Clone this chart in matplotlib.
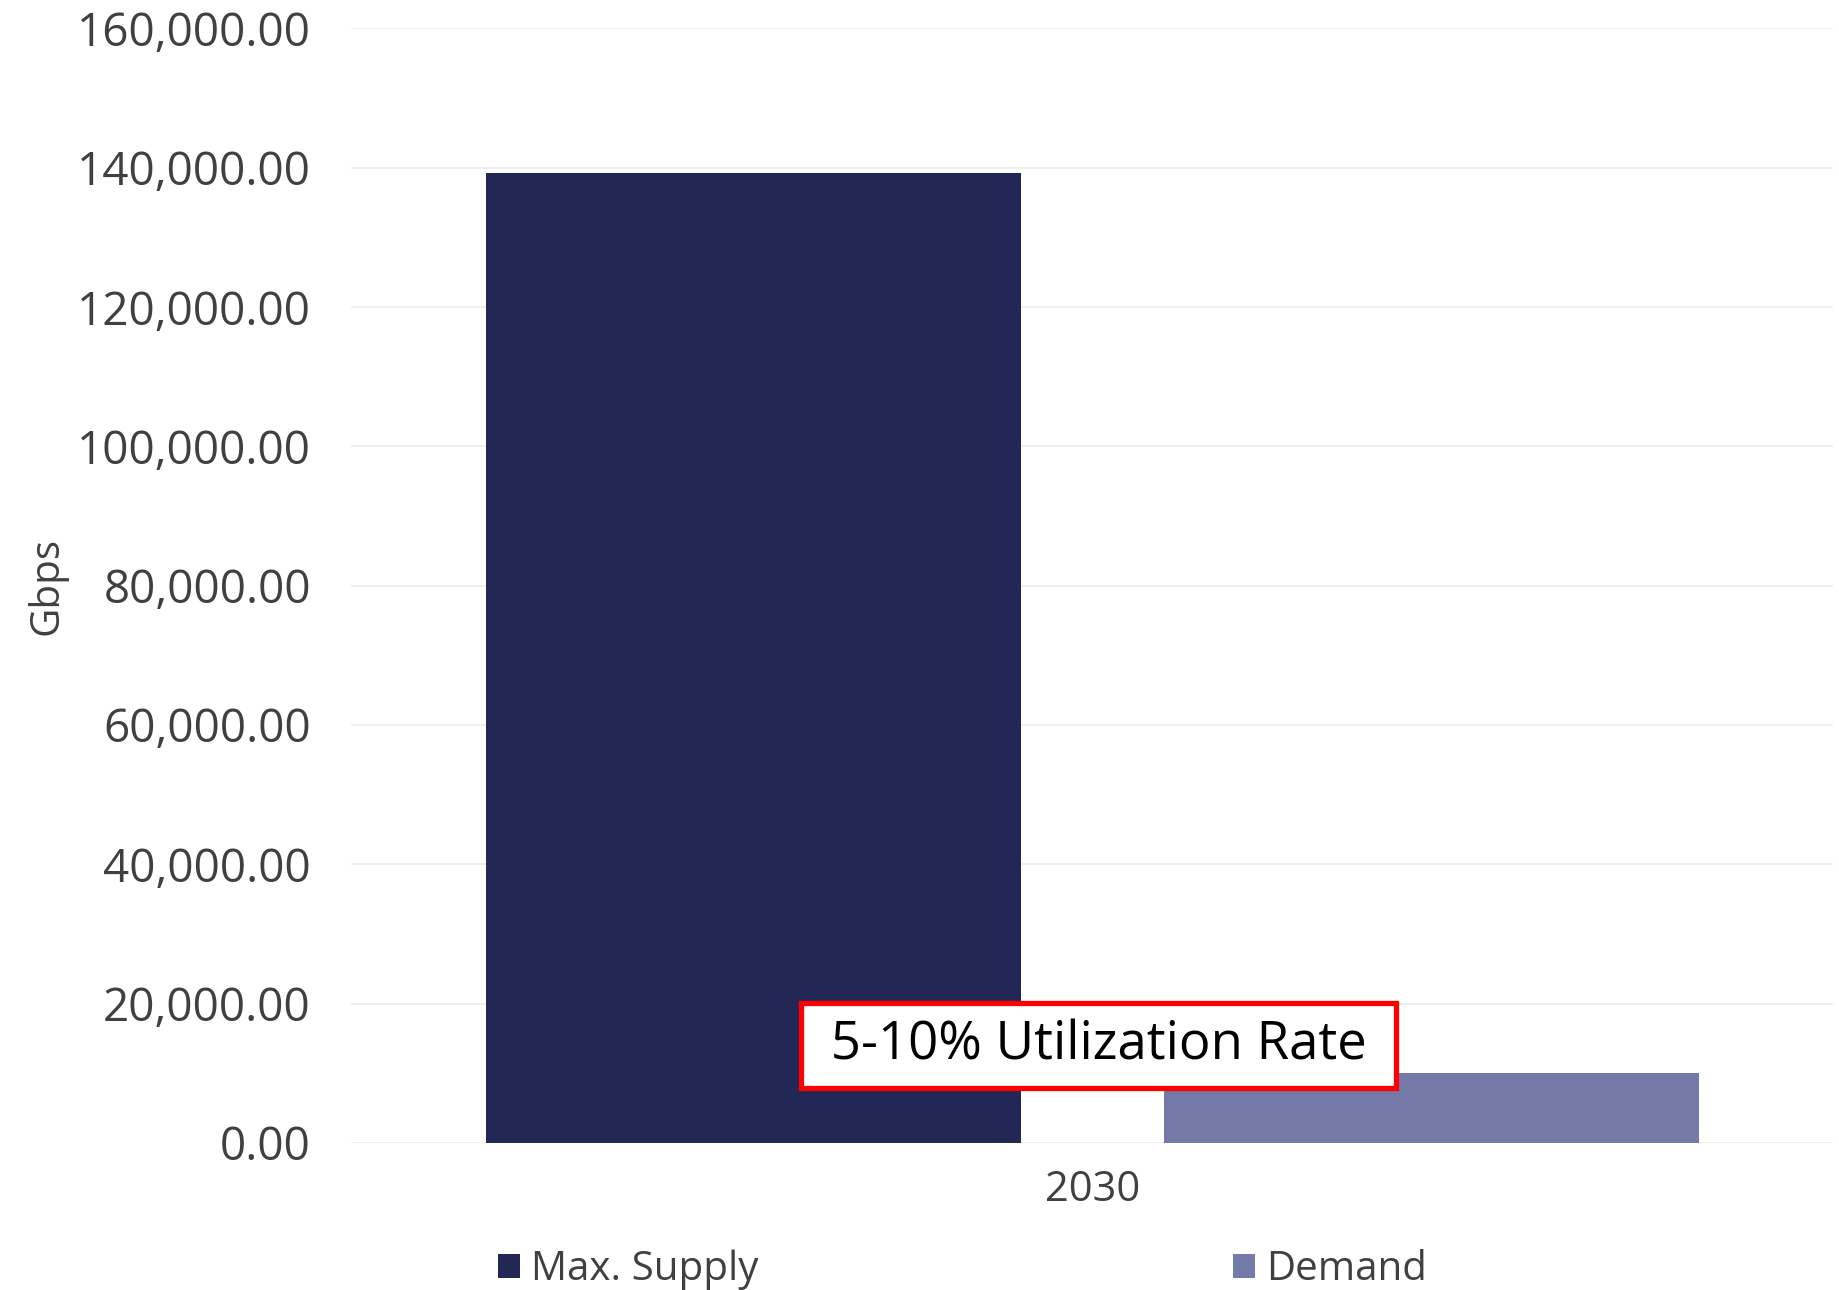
import numpy as np
import matplotlib.pyplot as plt
from matplotlib.ticker import FuncFormatter

# capacity vs demand, Gbps
years = ["2030"]
series = ["Max. Supply", "Demand"]
max_supply = [139300]
demand = [10050]
colors = ["#222756", "#737AA8"]
note = " 5-10% Utilization Rate "
note_y = 14000

plt.rcParams['font.family'] = ['Open Sans', 'DejaVu Sans']

fig = plt.figure(figsize=(18.39, 12.90), dpi=100)
ax = fig.add_axes([0.191, 0.114, 0.806, 0.864])

x = np.arange(len(years))
w = 0.361
b1 = ax.bar(x - 0.2285, max_supply, w, color=colors[0], label=series[0], zorder=2)
b2 = ax.bar(x + 0.2285, demand, w, color=colors[1], label=series[1], zorder=2)

ax.set_xlim(-0.5, 0.5)
ax.set_ylim(0, 160000)
ax.set_yticks(np.arange(0, 160001, 20000))
ax.yaxis.set_major_formatter(FuncFormatter(lambda v, p: f"{v:,.2f}"))
ax.set_xticks(x)
ax.set_xticklabels(years)
ax.tick_params(axis='y', length=0, pad=29, labelsize=33, labelcolor="#404040")
ax.tick_params(axis='x', length=0, pad=19, labelsize=30, labelcolor="#404040")
ax.grid(axis='y', color="#ebebeb", lw=1.2, zorder=0)
for s in ax.spines.values():
    s.set_visible(False)

fig.text(0.0255, 0.546, "Gbps", rotation=90, ha='center', va='center',
         fontsize=29, color="#404040")

ax.text(0.004, note_y, note, ha='center', va='center', fontsize=38, color='black',
        zorder=5,
        bbox=dict(boxstyle='square,pad=0.3', fc='white', ec='#ff0000', lw=3.8))

fig.legend(handles=[b1, b2], loc='center left', bbox_to_anchor=(0.2708, 0.0155),
           ncol=2, frameon=False, fontsize=29, labelcolor="#404040",
           handlelength=0.55, handleheight=0.55, handletextpad=0.26,
           columnspacing=11.8, borderpad=0, borderaxespad=0)

fig.savefig("out.png", dpi=100)
